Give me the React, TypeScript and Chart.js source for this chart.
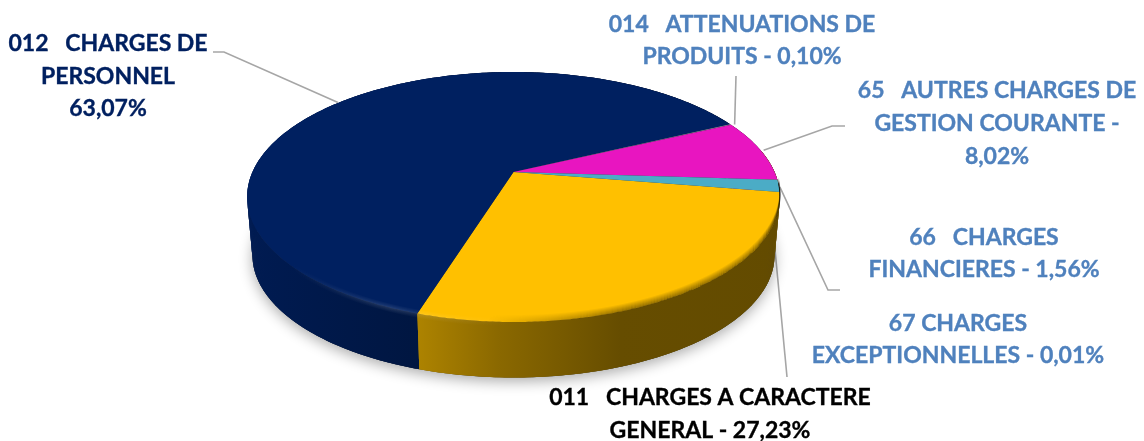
import React, { useEffect, useRef } from "react";
import { Chart, registerables } from "chart.js";

Chart.register(...registerables);

const categories = [
  "011 CHARGES A CARACTERE GENERAL",
  "012 CHARGES DE PERSONNEL",
  "014 ATTENUATIONS DE PRODUITS",
  "65 AUTRES CHARGES DE GESTION COURANTE",
  "66 CHARGES FINANCIERES",
  "67 CHARGES EXCEPTIONNELLES",
];
const values = [27.23, 63.07, 0.1, 8.02, 1.56, 0.01];
const colors = ["#FFC000", "#002060", "#A5A5A5", "#E815C0", "#4BACC6", "#8C8C8C"];
const labelLines = [
  ["011   CHARGES A CARACTERE", "GENERAL - 27,23%"],
  ["012   CHARGES DE", "PERSONNEL", "63,07%"],
  ["014   ATTENUATIONS DE", "PRODUITS - 0,10%"],
  ["65   AUTRES CHARGES DE", "GESTION COURANTE -", "8,02%"],
  ["66   CHARGES", "FINANCIERES - 1,56%"],
  ["67 CHARGES", "EXCEPTIONNELLES - 0,01%"],
];
const labelColors = ["#000000", "#002060", "#4F81BD", "#4F81BD", "#4F81BD", "#4F81BD"];
const labelPos = [
  { x: 710, y: 405, step: 33 },
  { x: 108, y: 51, step: 32.5 },
  { x: 742, y: 32, step: 32 },
  { x: 997, y: 98, step: 33 },
  { x: 984, y: 245, step: 32 },
  { x: 958, y: 331, step: 32 },
];
// leader paths: offset of the start from the slice's rim mid point, then the elbows
const leaders = [
  null,
  { off: [-1, 0], pts: [[224, 52], [213, 52]] },
  { off: [4, 0], pts: [[736, 76]] },
  { off: [3, 0], pts: [[832, 126], [845, 126]] },
  { off: [1, 1], pts: [[828, 290], [840, 290]] },
  { off: [-10, 1], pts: [[787, 377]] },
];

const CX = 513.5, APEX_Y = 172, A = 261, B = 85.6, K = -0.2;
const DEPTH_SCALE = 0.98, TOP_MID = 197, BASE_MID = 255;
const project = (t: number) => {
  const x = Math.cos(t), y = Math.sin(t), d = 1 + K * y;
  return [CX + (A * x) / d, (APEX_Y + B * y) / d];
};
const lower = (p: number[]) => [CX + (p[0] - CX) * DEPTH_SCALE, BASE_MID + (p[1] - TOP_MID) * DEPTH_SCALE];
const samples = (a: number, b: number) => {
  const n = Math.max(1, Math.ceil(Math.abs(b - a) / 0.01));
  return Array.from({ length: n + 1 }, (_, i) => a + ((b - a) * i) / n);
};
const shadeStops: [number, number][] = [[247, 0.85], [418, 0.68], [500, 0.54], [620, 0.4], [780, 0.39]];
const rgb = (h: string) => [1, 3, 5].map((i) => parseInt(h.slice(i, i + 2), 16));

const scenePlugin = {
  id: "scene3d",
  beforeDatasetDraw() {
    return false;
  },
  beforeDatasetsDraw(chart: any) {
    const ctx: CanvasRenderingContext2D = chart.ctx;
    const arcs = chart.getDatasetMeta(0).data;
    const full = samples(0, Math.PI * 2);
    ctx.save();

    // leader lines, behind the pie
    ctx.strokeStyle = "#A6A6A6";
    ctx.lineWidth = 1.6;
    arcs.forEach((arc: any, i: number) => {
      const l = leaders[i];
      if (!l) return;
      const p = project((arc.startAngle + arc.endAngle) / 2);
      ctx.beginPath();
      ctx.moveTo(p[0] + l.off[0], p[1] + l.off[1]);
      l.pts.forEach((q) => ctx.lineTo(q[0], q[1]));
      ctx.stroke();
    });

    // soft ground shadow
    ctx.save();
    ctx.shadowColor = "rgba(0,0,0,0.33)";
    ctx.shadowBlur = 14;
    ctx.shadowOffsetY = 4;
    ctx.fillStyle = "#333";
    ctx.beginPath();
    full.forEach((t, i) => {
      const p = lower(project(t));
      i ? ctx.lineTo(p[0], p[1]) : ctx.moveTo(p[0], p[1]);
    });
    ctx.closePath();
    ctx.fill();
    ctx.restore();

    // side walls, as overlapping swept quads; the first slice is painted last
    // and wraps round the right-hand end
    [...arcs.keys()].reverse().forEach((i: number) => {
      const arc = arcs[i];
      const c = rgb(colors[i]);
      const g = ctx.createLinearGradient(247, 0, 780, 0);
      shadeStops.forEach(([x, f]) =>
        g.addColorStop((x - 247) / 533, `rgb(${c[0] * f},${c[1] * f},${c[2] * f})`)
      );
      const ts = samples(i === 0 ? arc.startAngle - 0.35 : arc.startAngle, arc.endAngle);
      ctx.fillStyle = g;
      for (let k = 0; k < ts.length - 1; k++) {
        const a = project(ts[k]);
        const b = project(ts[Math.min(k + 2, ts.length - 1)]);
        const la = lower(a), lb = lower(b);
        ctx.beginPath();
        ctx.moveTo(a[0], a[1]);
        ctx.lineTo(b[0], b[1]);
        ctx.lineTo(lb[0], lb[1]);
        ctx.lineTo(la[0], la[1]);
        ctx.closePath();
        ctx.fill();
      }
    });

    // top face
    arcs.forEach((arc: any, i: number) => {
      ctx.fillStyle = colors[i];
      ctx.beginPath();
      ctx.moveTo(CX, APEX_Y);
      samples(arc.startAngle, arc.endAngle).forEach((t) => {
        const p = project(t);
        ctx.lineTo(p[0], p[1]);
      });
      ctx.closePath();
      ctx.fill();
    });

    // bevel along the front rim
    const rim = samples(0.1, Math.PI);
    const rimPath = (dy: number) => {
      ctx.beginPath();
      rim.forEach((t, k) => {
        const p = project(t);
        k ? ctx.lineTo(p[0], p[1] + dy) : ctx.moveTo(p[0], p[1] + dy);
      });
    };
    for (let d = 1; d <= 7; d++) {
      const g = ctx.createLinearGradient(247, 0, 780, 0);
      const a = 0.42 * (1 - (d - 1) / 7);
      g.addColorStop(0, "rgba(0,0,0,0)");
      g.addColorStop(0.45, "rgba(0,0,0,0)");
      g.addColorStop(0.72, `rgba(0,0,0,${a})`);
      g.addColorStop(1, `rgba(0,0,0,${a})`);
      ctx.strokeStyle = g;
      ctx.lineWidth = 1;
      rimPath(-d + 0.5);
      ctx.stroke();
    }
    for (let d = 0; d <= 3; d++) {
      const g = ctx.createLinearGradient(247, 0, 780, 0);
      const a = 0.12 * (1 - d / 4);
      g.addColorStop(0, "rgba(255,255,255,0)");
      g.addColorStop(0.08, "rgba(255,255,255,0)");
      g.addColorStop(0.27, `rgba(255,255,255,${a})`);
      g.addColorStop(0.5, "rgba(255,255,255,0)");
      ctx.strokeStyle = g;
      ctx.lineWidth = 1;
      rimPath(d + 0.5);
      ctx.stroke();
      rimPath(-d - 0.5);
      ctx.stroke();
    }

    // labels
    ctx.font = "bold 23px Lato";
    ctx.textAlign = "center";
    ctx.textBaseline = "alphabetic";
    ctx.lineWidth = 0.35;
    labelLines.forEach((lines, i) => {
      ctx.fillStyle = labelColors[i];
      ctx.strokeStyle = labelColors[i];
      lines.forEach((s, k) => {
        ctx.fillText(s, labelPos[i].x, labelPos[i].y + k * labelPos[i].step);
        ctx.strokeText(s, labelPos[i].x, labelPos[i].y + k * labelPos[i].step);
      });
    });
    ctx.restore();
  },
};

export default function App() {
  const ref = useRef<HTMLCanvasElement>(null);
  useEffect(() => {
    document.body.style.margin = "0";
    const chart = new Chart(ref.current!, {
      type: "pie",
      data: {
        labels: categories,
        datasets: [{ data: values, backgroundColor: colors, borderWidth: 0 }],
      },
      options: {
        responsive: false,
        animation: false,
        rotation: 99.3,
        plugins: { legend: { display: false }, tooltip: { enabled: false } },
      },
      plugins: [scenePlugin],
    } as any);
    return () => chart.destroy();
  }, []);
  return <canvas ref={ref} width={1144} height={441} style={{ display: "block" }} />;
}
